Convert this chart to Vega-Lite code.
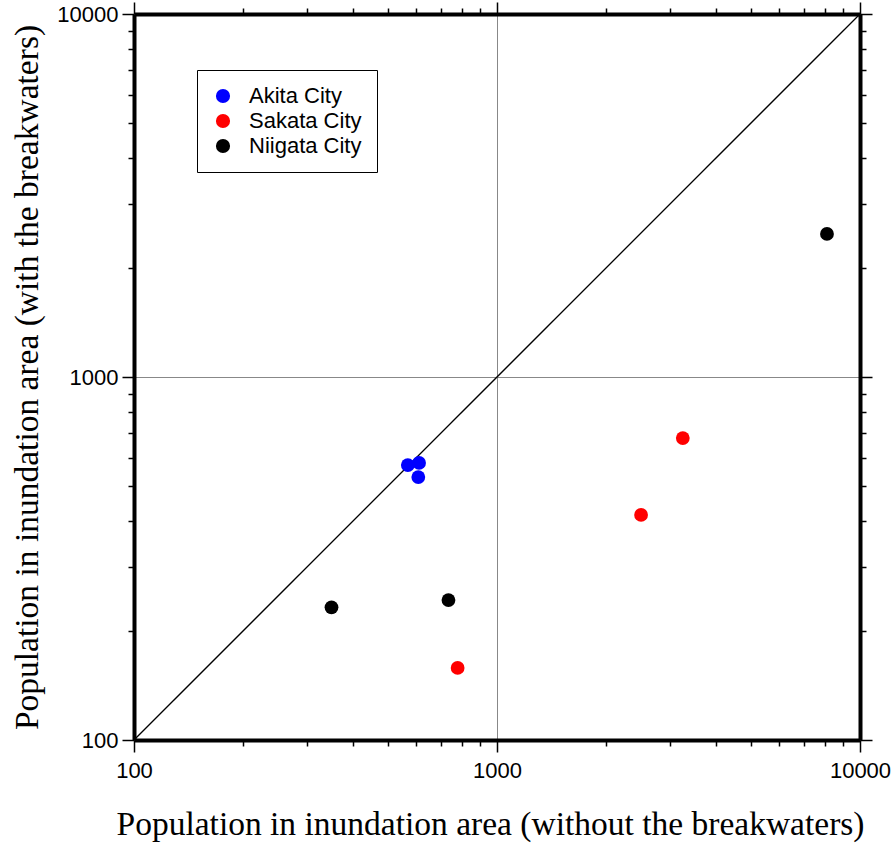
{
  "$schema": "https://vega.github.io/schema/vega-lite/v6.json",
  "autosize": "none",
  "width": 726,
  "height": 726,
  "padding": {"left": 134, "top": 14, "right": 36, "bottom": 104},
  "background": "white",
  "config": {"view": {"stroke": null}},
  "datasets": {
    "pts": [
      {"city": "Akita City", "without": 568, "with": 572},
      {"city": "Akita City", "without": 610, "with": 580},
      {"city": "Akita City", "without": 607, "with": 530},
      {"city": "Sakata City", "without": 3250, "with": 679},
      {"city": "Sakata City", "without": 2494, "with": 417},
      {"city": "Sakata City", "without": 779, "with": 158},
      {"city": "Niigata City", "without": 8110, "with": 2478},
      {"city": "Niigata City", "without": 350, "with": 232},
      {"city": "Niigata City", "without": 735, "with": 243}
    ],
    "diag": [
      {"without": 100, "with": 100},
      {"without": 10000, "with": 10000}
    ]
  },
  "resolve": {"axis": {"x": "independent", "y": "independent"}},
  "layer": [
    {
      "data": {"name": "diag"},
      "mark": {"type": "line", "color": "black", "strokeWidth": 1.3},
      "encoding": {
        "x": {"field": "without", "type": "quantitative",
          "scale": {"type": "log", "domain": [100, 10000], "nice": false},
          "axis": {"orient": "top", "values": [100,200,300,400,500,600,700,800,900,1000,2000,3000,4000,5000,6000,7000,8000,9000,10000],
            "labels": false, "title": null, "grid": false,
            "domainColor": "black", "domainWidth": 4, "tickColor": "black", "tickWidth": 1.5,
            "tickSize": {"condition": {"test": "datum.value==100||datum.value==1000||datum.value==10000", "value": 12}, "value": 6}}},
        "y": {"field": "with", "type": "quantitative",
          "scale": {"type": "log", "domain": [100, 10000], "nice": false},
          "axis": {"orient": "right", "values": [100,200,300,400,500,600,700,800,900,1000,2000,3000,4000,5000,6000,7000,8000,9000,10000],
            "labels": false, "title": null, "grid": false,
            "domainColor": "black", "domainWidth": 4, "tickColor": "black", "tickWidth": 1.5,
            "tickSize": {"condition": {"test": "datum.value==100||datum.value==1000||datum.value==10000", "value": 12}, "value": 6}}}
      }
    },
    {
      "data": {"name": "pts"},
      "mark": {"type": "circle", "size": 190, "opacity": 1},
      "encoding": {
        "x": {"field": "without", "type": "quantitative",
          "scale": {"type": "log", "domain": [100, 10000], "nice": false},
          "axis": {"orient": "bottom", "values": [100,200,300,400,500,600,700,800,900,1000,2000,3000,4000,5000,6000,7000,8000,9000,10000],
            "format": "d",
            "labelExpr": "(datum.value==100||datum.value==1000||datum.value==10000) ? datum.label : ''",
            "labelFlush": false, "labelOverlap": false, "labelBound": false,
            "labelFont": "Liberation Sans", "labelFontSize": 22, "labelColor": "black", "labelPadding": 8,
            "grid": true, "gridColor": "#888888", "gridWidth": 1,
            "gridOpacity": {"condition": {"test": "datum.value==1000", "value": 1}, "value": 0},
            "domainColor": "black", "domainWidth": 4, "tickColor": "black", "tickWidth": 1.5,
            "tickSize": {"condition": {"test": "datum.value==100||datum.value==1000||datum.value==10000", "value": 12}, "value": 6},
            "title": "Population in inundation area (without the breakwaters)",
            "titleFont": "Liberation Serif", "titleFontSize": 33.5, "titleFontWeight": "normal", "titleColor": "black", "titlePadding": 27, "titleX": 356}},
        "y": {"field": "with", "type": "quantitative",
          "scale": {"type": "log", "domain": [100, 10000], "nice": false},
          "axis": {"orient": "left", "values": [100,200,300,400,500,600,700,800,900,1000,2000,3000,4000,5000,6000,7000,8000,9000,10000],
            "format": "d",
            "labelExpr": "(datum.value==100||datum.value==1000||datum.value==10000) ? datum.label : ''",
            "labelFlush": false, "labelOverlap": false, "labelBound": false,
            "labelFont": "Liberation Sans", "labelFontSize": 22, "labelColor": "black", "labelPadding": 4,
            "grid": true, "gridColor": "#888888", "gridWidth": 1,
            "gridOpacity": {"condition": {"test": "datum.value==1000", "value": 1}, "value": 0},
            "domainColor": "black", "domainWidth": 4, "tickColor": "black", "tickWidth": 1.5,
            "tickSize": {"condition": {"test": "datum.value==100||datum.value==1000||datum.value==10000", "value": 12}, "value": 6},
            "title": "Population in inundation area (with the breakwaters)",
            "titleFont": "Liberation Serif", "titleFontSize": 33.5, "titleFontWeight": "normal", "titleColor": "black", "titlePadding": 12}},
        "color": {"field": "city", "type": "nominal",
          "scale": {"domain": ["Akita City", "Sakata City", "Niigata City"], "range": ["#0000ff", "#ff0000", "#000000"]},
          "legend": {"title": null, "orient": "none", "legendX": 63, "legendY": 56,
            "strokeColor": "black", "fillColor": "white", "padding": 15,
            "symbolType": "circle", "symbolSize": 200, "symbolOpacity": 1, "symbolStrokeWidth": 0,
            "labelFont": "Liberation Sans", "labelFontSize": 22, "labelColor": "black", "labelOffset": 15,
            "rowPadding": 3}}
      }
    }
  ]
}
